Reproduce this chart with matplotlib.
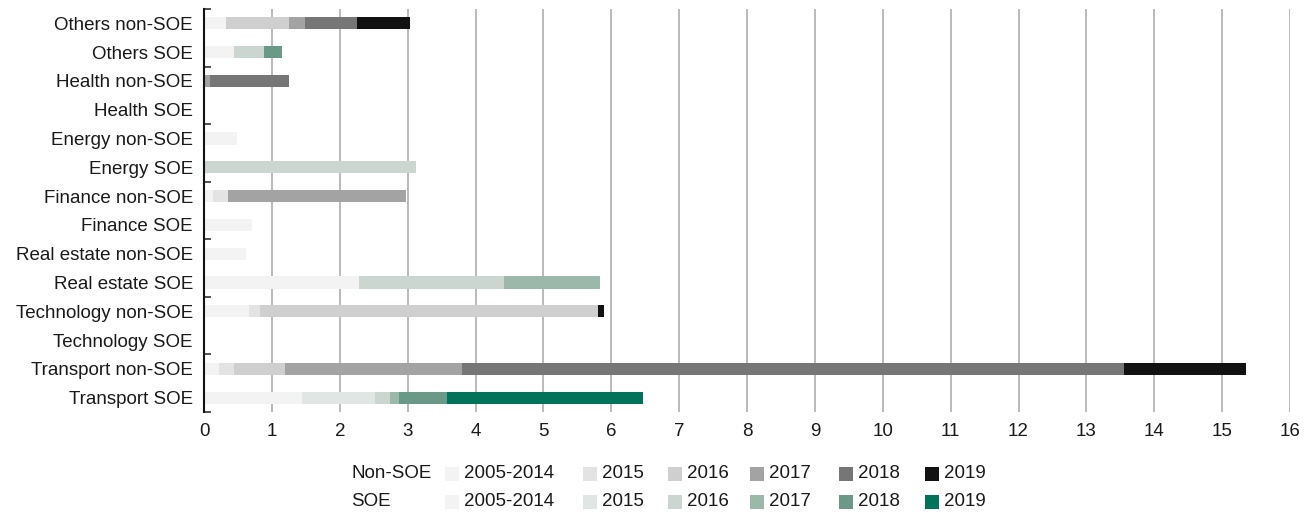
import numpy as np
import matplotlib.pyplot as plt
from matplotlib.patches import Rectangle

plt.rcParams['font.family'] = ['Liberation Sans', 'DejaVu Sans']

# rows, top to bottom
categories = ['Others non-SOE', 'Others SOE', 'Health non-SOE', 'Health SOE',
              'Energy non-SOE', 'Energy SOE', 'Finance non-SOE', 'Finance SOE',
              'Real estate non-SOE', 'Real estate SOE', 'Technology non-SOE',
              'Technology SOE', 'Transport non-SOE', 'Transport SOE']
periods = ['2005-2014', '2015', '2016', '2017', '2018', '2019']

v_2005_2014 = [0.32, 0.44, 0, 0, 0.49, 0, 0.13, 0.70, 0.62, 2.28, 0.66, 0, 0.22, 1.44]
v_2015 = [0, 0, 0, 0, 0, 0, 0.23, 0, 0, 0, 0.16, 0, 0.22, 1.08]
v_2016 = [0.93, 0.44, 0, 0, 0, 3.12, 0, 0, 0, 2.14, 4.98, 0, 0.75, 0.22]
v_2017 = [0.24, 0, 0.09, 0, 0, 0, 2.62, 0, 0, 1.41, 0, 0, 2.61, 0.13]
v_2018 = [0.76, 0.27, 1.16, 0, 0, 0, 0, 0, 0, 0, 0, 0, 9.76, 0.71]
v_2019 = [0.78, 0, 0, 0, 0, 0, 0, 0, 0, 0, 0.10, 0, 1.79, 2.89]
values = [v_2005_2014, v_2015, v_2016, v_2017, v_2018, v_2019]

nonsoe_colors = ['#f3f3f3', '#e3e3e3', '#cfcfcf', '#a3a3a3', '#767676', '#121212']
soe_colors = ['#f3f3f3', '#e0e6e3', '#ccd6d0', '#9bb8aa', '#6a9a87', '#00735a']

FS = 13.5
W, H = 1311, 513
fig = plt.figure(figsize=(W / 100, H / 100), dpi=100)
ax = fig.add_axes([204 / W, 1 - 412 / H, (1290 - 204) / W, (412 - 9) / H])

y = np.arange(len(categories))
is_soe = np.array([not c.endswith('non-SOE') for c in categories])
left = np.zeros(len(categories))
for i, vals in enumerate(values):
    vals = np.array(vals)
    cols = [soe_colors[i] if s else nonsoe_colors[i] for s in is_soe]
    ax.barh(y, vals, left=left, height=0.42, color=cols, linewidth=0)
    left += vals

ax.set_xlim(0, 16)
ax.set_ylim(len(categories) - 0.5, -0.5)
ax.set_xticks(range(17))
ax.set_yticks(y)
ax.set_yticklabels(categories)
ax.set_yticks(np.arange(-0.5, len(categories), 2), minor=True)
ax.tick_params(axis='y', which='major', length=0, pad=8, labelsize=FS, colors='#1a1a1a')
ax.tick_params(axis='y', which='minor', direction='in', length=5, width=1.2, color='#333333')
ax.tick_params(axis='x', length=0, pad=8, labelsize=FS, colors='#1a1a1a')
ax.grid(axis='x', color='#aeaeae', linewidth=1.2)
ax.set_axisbelow(True)
for side in ['top', 'right', 'bottom']:
    ax.spines[side].set_visible(False)
ax.spines['left'].set_linewidth(1.5)
ax.spines['left'].set_color('#111111')

# legend built by hand, two rows
rows = [('Non-SOE', nonsoe_colors, 474), ('SOE', soe_colors, 502)]
patch_x = [445, 583, 668, 750, 839, 925]
for label, cols, yc in rows:
    fig.text(351 / W, 1 - yc / H, label, fontsize=FS, va='center', ha='left', color='#1a1a1a')
    for px, c, p in zip(patch_x, cols, periods):
        fig.add_artist(Rectangle((px / W, 1 - (yc + 7) / H), 14 / W, 14 / H,
                                 transform=fig.transFigure, color=c, linewidth=0))
        fig.text((px + 19) / W, 1 - yc / H, p, fontsize=FS, va='center', ha='left', color='#1a1a1a')

fig.savefig('out.png', dpi=100)
